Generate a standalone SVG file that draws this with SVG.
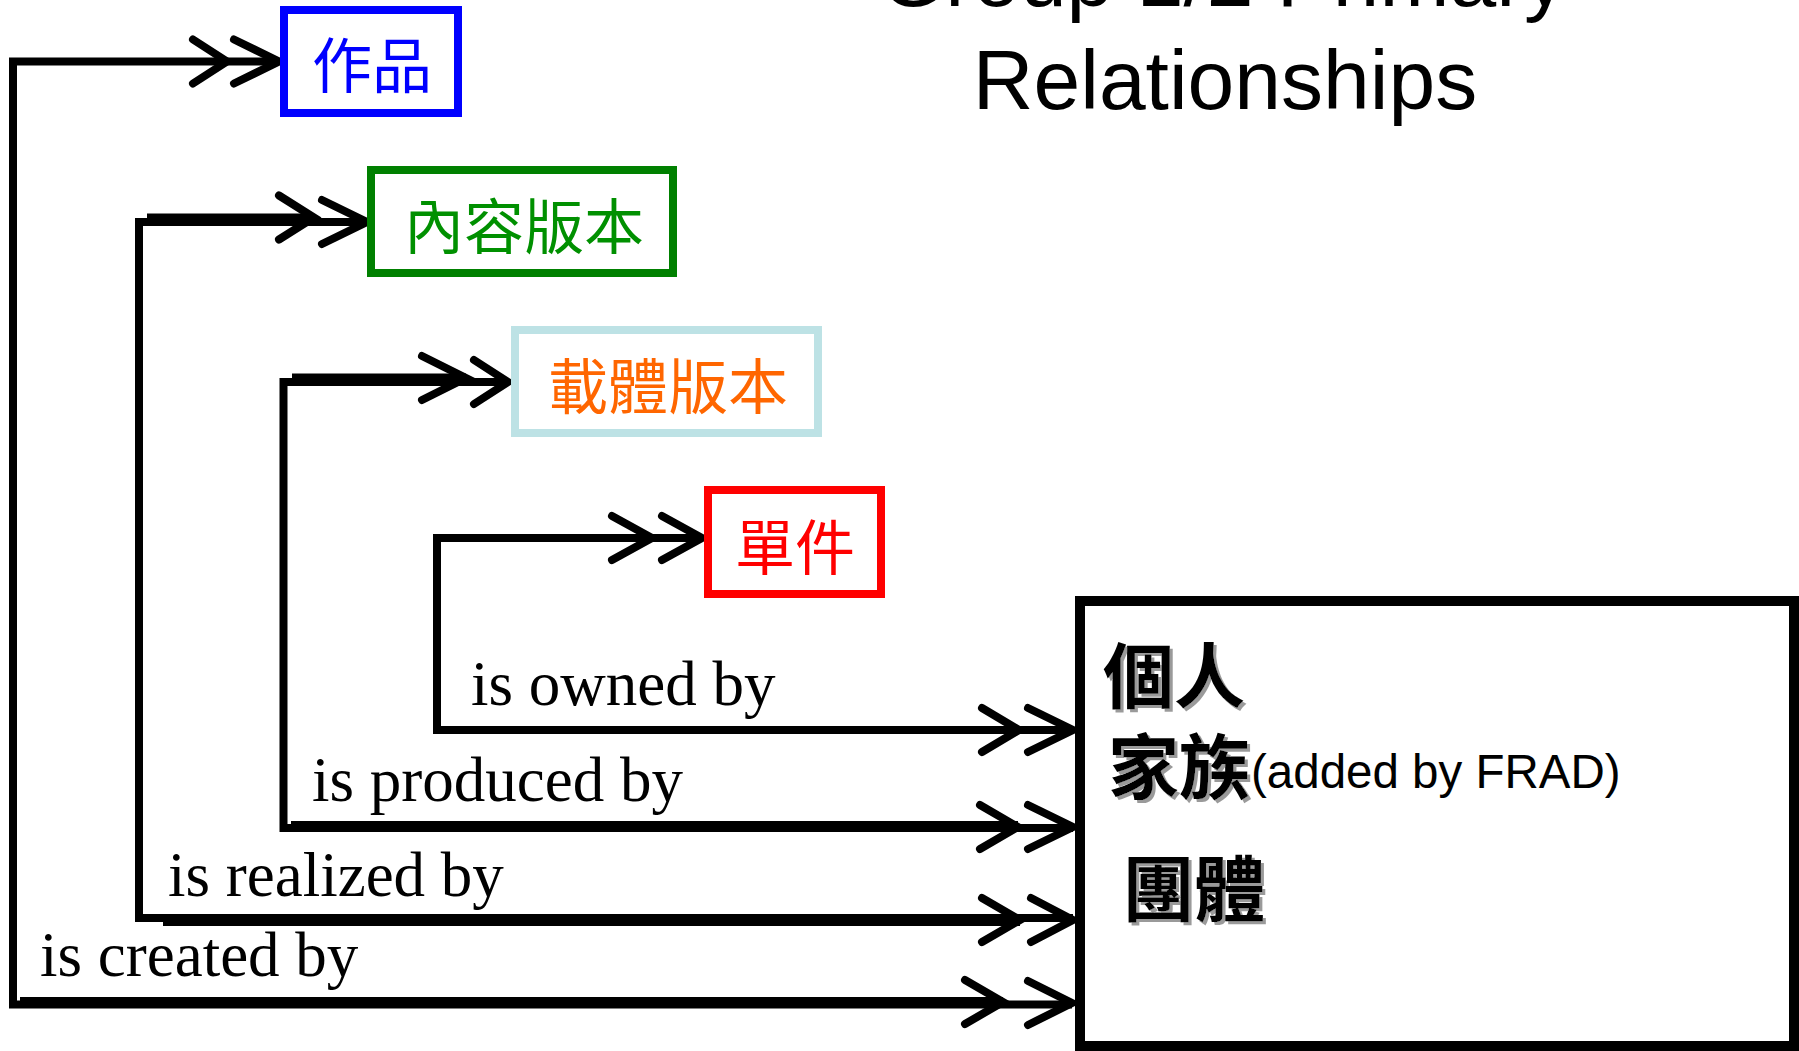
<svg xmlns="http://www.w3.org/2000/svg" width="1799" height="1051" viewBox="0 0 1799 1051">
<defs>
<style>
.title{font-family:"Liberation Sans",Arial,sans-serif;font-size:84px;fill:#000;text-anchor:middle}
.box{fill:#fff;stroke-width:8}
.cjk{font-family:"Noto Sans CJK TC","Noto Sans CJK SC",sans-serif;font-size:60px;text-anchor:middle}
.big{font-family:"Noto Sans CJK TC","Noto Sans CJK SC",sans-serif;font-size:71px;font-weight:700;fill:#000}
.lab{font-family:"Liberation Serif","Times New Roman",serif;font-size:63px;fill:#000}
.ln{fill:none;stroke:#000;stroke-width:8;stroke-linejoin:miter}
.ch{fill:none;stroke:#000;stroke-width:8;stroke-linecap:round;stroke-linejoin:miter}
</style>
<filter id="sh" x="-10%" y="-10%" width="130%" height="130%">
<feDropShadow dx="3" dy="3" stdDeviation="0.6" flood-color="#9a9a9a" flood-opacity="1"/>
</filter>
</defs>
<rect width="1799" height="1051" fill="#fff"/>

<g id="title">
<text class="title" x="1223" y="6">Group 1/2 Primary</text>
<text class="title" x="1225" y="109">Relationships</text>
</g>

<g id="connectors">
<path class="ln" d="M279,61.5 H13 V1004.5 H1072"/>
<path class="ln" d="M367,222 H139 V918 H1073"/>
<path class="ln" d="M147,217.5 H314"/>
<path class="ln" d="M163,922 H1020"/>
<path class="ln" d="M508,382 H283.5 V828 H1073"/>
<path class="ln" d="M292,377.5 H466"/>
<path class="ln" d="M291,825 H1018"/>
<path class="ln" d="M702,538 H437 V730 H1073"/>
<path class="ln" d="M20,1001 H1003"/>
<path class="ch" d="M193,39.5 L227,61.5 L193,83.5"/>
<path class="ch" d="M234,39.5 L279,61.5 L234,83.5"/>
<path class="ch" d="M279,195.5 L314,217.5 L279,239.5"/>
<path class="ch" d="M322,200 L367,222 L322,244"/>
<path class="ch" d="M422,356 L466,378 L422,400"/>
<path class="ch" d="M474,360 L508,382 L474,404"/>
<path class="ch" d="M612,516 L652,538 L612,560"/>
<path class="ch" d="M662,516 L702,538 L662,560"/>
<path class="ch" d="M982,708 L1019,730 L982,752"/>
<path class="ch" d="M1028,708 L1073,730 L1028,752"/>
<path class="ch" d="M980,805 L1018,827 L980,849"/>
<path class="ch" d="M1028,805 L1073,827 L1028,849"/>
<path class="ch" d="M982,898 L1020,920 L982,942"/>
<path class="ch" d="M1031,898 L1073,920 L1031,942"/>
<path class="ch" d="M965,980 L1003,1002 L965,1024"/>
<path class="ch" d="M1028,981 L1072,1003 L1028,1025"/>
</g>

<g id="labels">
<text class="lab" x="471" y="705">is owned by</text>
<text class="lab" x="312" y="801">is produced by</text>
<text class="lab" x="168" y="896">is realized by</text>
<text class="lab" x="40" y="976">is created by</text>
</g>

<g id="node-work">
<rect class="box" x="284" y="10" width="174" height="103" stroke="#0000ff"/>
<text class="cjk" x="372" y="88" fill="#0000ff">作品</text>
</g>

<g id="node-expression">
<rect class="box" x="371" y="170" width="302" height="103" stroke="#008000"/>
<text class="cjk" x="524" y="249" fill="#009000">內容版本</text>
</g>

<g id="node-manifestation">
<rect class="box" x="515" y="330" width="303" height="103" stroke="#bde2e5"/>
<text class="cjk" x="668" y="409" fill="#ff6600">載體版本</text>
</g>

<g id="node-item">
<rect class="box" x="708" y="490" width="173" height="104" stroke="#ff0000"/>
<text class="cjk" x="795" y="570" fill="#ff0000">單件</text>
</g>

<g id="node-group2">
<rect x="1080" y="601" width="714" height="445" fill="#fff" stroke="#000" stroke-width="10"/>
<text class="big" x="1103" y="702" filter="url(#sh)">個人</text>
<text class="big" x="1108" y="793" filter="url(#sh)">家族</text>
<text x="1251" y="788" font-family="Liberation Sans, Arial, sans-serif" font-size="47.5" fill="#000">(added by FRAD)</text>
<text class="big" x="1123" y="915" filter="url(#sh)">團體</text>
</g>
</svg>
